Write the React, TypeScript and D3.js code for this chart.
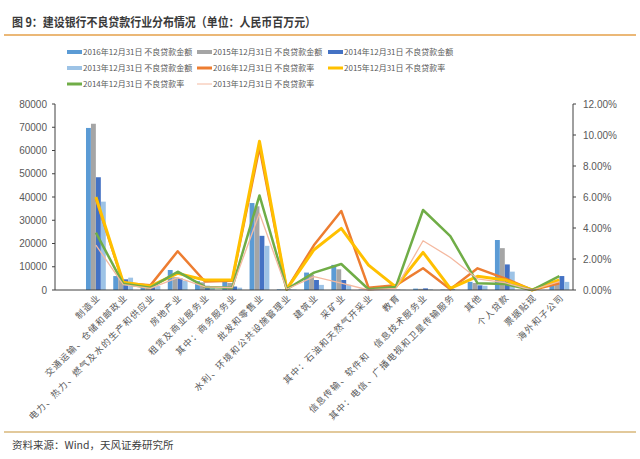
import React from "react";
import * as d3 from "d3";

const categories = [
  "制造业",
  "交通运输、仓储和邮政业",
  "电力、热力、燃气及水的生产和供应业",
  "房地产业",
  "租赁及商业服务业",
  "其中：商务服务业",
  "批发和零售业",
  "水利、环境和公共设施管理业",
  "建筑业",
  "采矿业",
  "其中：石油和天然气开采业",
  "教育",
  "信息传输、软件和　信息技术服务业",
  "其中：电信、广播电视和卫星传输服务",
  "其他",
  "个人贷款",
  "票据贴现",
  "海外和子公司",
];

const amt2016 = [69700, 6000, 1500, 8600, 3800, 3600, 37400, 300, 7500, 10800, 200, 100, 600, 200, 3500, 21500, 0, 2000];
const amt2015 = [71500, 5000, 2000, 5500, 3300, 3000, 36000, 300, 6500, 8900, 200, 100, 500, 200, 3000, 18000, 0, 2800];
const amt2014 = [48500, 4600, 1200, 5000, 1800, 1500, 23300, 200, 4300, 4300, 100, 100, 700, 300, 2000, 11000, 0, 6000];
const amt2013 = [38000, 5300, 1700, 4000, 1200, 1000, 19000, 200, 2200, 2200, 100, 100, 300, 100, 1800, 7900, 0, 3500];

const rate2016 = [5.9, 0.45, 0.3, 2.5, 0.55, 0.6, 9.2, 0.05, 2.9, 5.1, 0.15, 0.3, 1.4, 0.05, 1.4, 0.75, 0, 0.43];
const rate2015 = [6.0, 0.5, 0.25, 1.07, 0.65, 0.65, 9.6, 0.05, 2.6, 3.98, 1.6, 0.2, 2.43, 0.1, 0.88, 0.65, 0, 0.65];
const rate2014 = [3.7, 0.4, 0.15, 1.18, 0.2, 0.15, 6.1, 0.05, 1.12, 1.68, 0.05, 0.2, 5.16, 3.48, 0.43, 0.39, 0, 0.9];
const rate2013 = [2.9, 0.35, 0.1, 0.8, 0.2, 0.15, 4.95, 0.05, 0.86, 0.45, 0, 0.1, 3.18, 2.1, 0.72, 0.47, 0, 0.54];

const leftTicks = [0, 10000, 20000, 30000, 40000, 50000, 60000, 70000, 80000];
const rightTicks = [0, 2, 4, 6, 8, 10, 12];

const barSeries = [
  { name: "2016年12月31日 不良贷款金额", values: amt2016, color: "#5B9BD5" },
  { name: "2015年12月31日 不良贷款金额", values: amt2015, color: "#A5A5A5" },
  { name: "2014年12月31日 不良贷款金额", values: amt2014, color: "#4472C4" },
  { name: "2013年12月31日 不良贷款金额", values: amt2013, color: "#9DC3E6" },
];
const lineSeries = [
  { name: "2016年12月31日 不良贷款率", values: rate2016, color: "#ED7D31", width: 2.5 },
  { name: "2015年12月31日 不良贷款率", values: rate2015, color: "#FFC000", width: 3 },
  { name: "2014年12月31日 不良贷款率", values: rate2014, color: "#70AD47", width: 2.5 },
  { name: "2013年12月31日 不良贷款率", values: rate2013, color: "#F4B9A0", width: 1.3 },
];

const W = 640;
const H = 459;
const left = 55;
const right = 573;
const top = 104;
const bottom = 290;
const FONT = "'Noto Sans CJK SC', 'Noto Sans', sans-serif";
const NUMFONT = "'Liberation Sans', Arial, sans-serif";

export default function App() {
  const x = d3.scaleBand<string>().domain(["", ...categories]).range([left, right]).padding(0);
  const groupW = 20;
  const xi = d3.scaleBand<string>().domain(barSeries.map((s) => s.name)).range([0, groupW]).padding(0.02);
  const yL = d3.scaleLinear().domain([0, 80000]).range([bottom, top]);
  const yR = d3.scaleLinear().domain([0, 12]).range([bottom, top]);
  const cx = (c: string) => (x(c) as number) + x.bandwidth() / 2;

  const lineGen = d3
    .line<number>()
    .x((_, i) => cx(categories[i]))
    .y((d) => yR(d));

  const legendItems = [...barSeries.map((s) => ({ ...s, kind: "bar" })), ...lineSeries.map((s) => ({ ...s, kind: "line" }))];
  const legendCols = [67, 197, 328];
  const legendRows = [52, 68, 84];

  return (
    <div style={{ position: "fixed", left: 0, top: 0, width: W, height: H, background: "#fff" }}>
      <svg width={W} height={H} style={{ display: "block" }}>
        <rect x={0} y={0} width={W} height={H} fill="#fff" />
        <text x={12} y={27} fontFamily={FONT} fontSize={12.5} fontWeight="bold" fill="#3a3a3a" textLength={304} lengthAdjust="spacingAndGlyphs">
          图 9：建设银行不良贷款行业分布情况（单位：人民币百万元）
        </text>
        <line x1={4} x2={636} y1={35} y2={35} stroke="#E5A04A" strokeWidth={1.5} />

        {legendItems.map((it, i) => {
          const col = i < 6 ? i % 3 : i - 6;
          const row = i < 6 ? Math.floor(i / 3) : 2;
          const lx = legendCols[col];
          const ly = legendRows[row];
          return (
            <g key={it.name}>
              {it.kind === "bar" ? (
                <rect x={lx} y={ly - 2} width={15} height={4} fill={it.color} />
              ) : (
                <line x1={lx} x2={lx + 15} y1={ly} y2={ly} stroke={it.color} strokeWidth={(it as any).width > 2 ? 3 : 1} />
              )}
              <text x={lx + 16} y={ly + 3} fontFamily={FONT} fontSize={8} fill="#595959">
                {it.name}
              </text>
            </g>
          );
        })}

        {barSeries.map((s) =>
          s.values.map((v, i) => {
            const c = categories[i];
            const bx = cx(c) - groupW / 2 + (xi(s.name) as number);
            return (
              <rect key={s.name + i} x={bx} y={yL(v)} width={xi.bandwidth()} height={bottom - yL(v)} fill={s.color} />
            );
          })
        )}

        {lineSeries.map((s) => (
          <path key={s.name} d={lineGen(s.values) || ""} fill="none" stroke={s.color} strokeWidth={s.width} strokeLinejoin="round" />
        ))}

        <line x1={left} x2={left} y1={top} y2={bottom} stroke="#404040" strokeWidth={1} />
        <line x1={right} x2={right} y1={top} y2={bottom} stroke="#404040" strokeWidth={1} />
        <line x1={left} x2={right} y1={bottom} y2={bottom} stroke="#404040" strokeWidth={1} />
        {leftTicks.map((t) => (
          <g key={"l" + t}>
            <line x1={left - 3} x2={left} y1={yL(t)} y2={yL(t)} stroke="#404040" />
            <text x={47} y={yL(t) + 3.5} textAnchor="end" fontFamily={NUMFONT} fontSize={10} fill="#595959">
              {t}
            </text>
          </g>
        ))}
        {rightTicks.map((t) => (
          <g key={"r" + t}>
            <line x1={right} x2={right + 3} y1={yR(t)} y2={yR(t)} stroke="#404040" />
            <text x={583} y={yR(t) + 3.5} fontFamily={NUMFONT} fontSize={10} fill="#595959">
              {t.toFixed(2) + "%"}
            </text>
          </g>
        ))}
        {categories.map((c) => (
          <text
            key={"x" + c}
            transform={`translate(${cx(c) + 5},${bottom + 8}) rotate(-45)`}
            textAnchor="end"
            fontFamily={FONT}
            fontSize={9}
            letterSpacing={1.2}
            fill="#595959"
            style={{ whiteSpace: "pre" }}
          >
            {c}
          </text>
        ))}

        <line x1={4} x2={636} y1={432} y2={432} stroke="#D9B77A" strokeWidth={1.5} />
        <text x={12} y={449} fontFamily={FONT} fontSize={10.5} fill="#404040">
          资料来源：Wind，天风证券研究所
        </text>
      </svg>
    </div>
  );
}
